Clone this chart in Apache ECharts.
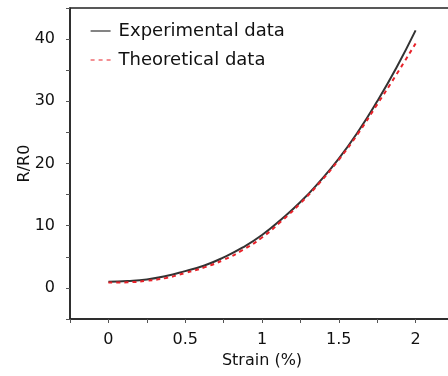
<!DOCTYPE html>
<html><head><meta charset="utf-8">
<script src="https://cdn.jsdelivr.net/npm/echarts@6/dist/echarts.min.js"></script>
<style>html,body{margin:0;padding:0;background:#fff;overflow:hidden;width:448px;height:376px}#c{width:460px;height:376px}</style>
</head><body><div id="c"></div>
<script>
var strain = [0, 0.125, 0.25, 0.375, 0.5, 0.625, 0.75, 0.875, 1.0, 1.125, 1.25, 1.375, 1.5, 1.625, 1.75, 1.875, 2.0];
var experimental = [1.0, 1.1, 1.35, 1.9, 2.7, 3.6, 4.9, 6.5, 8.5, 11.0, 13.8, 17.1, 20.8, 25.1, 30.0, 35.4, 41.4];
var theoretical = [0.85, 0.9, 1.15, 1.6, 2.4, 3.3, 4.5, 6.1, 8.1, 10.7, 13.6, 16.9, 20.6, 24.8, 29.5, 34.3, 39.3];
var seriesNames = ['Experimental data', 'Theoretical data'];
var xLabels = ['0', '0.5', '1', '1.5', '2'];
var yLabels = ['0', '10', '20', '30', '40'];

function pairs(xs, ys){ return xs.map(function(x,i){ return [x, ys[i]]; }); }
var font = 'DejaVu Sans';
var chart = echarts.init(document.getElementById('c'), null, {renderer:'canvas'});
chart.setOption({
  animation: false,
  grid: {left: 70, top: 8, right: 6, bottom: 57, show: true, borderColor: '#222', borderWidth: 1.5, backgroundColor: 'transparent'},
  legend: {
    left: 85, top: 17, orient: 'vertical', itemGap: 11, itemWidth: 20, itemHeight: 10,
    itemStyle: {opacity: 0},
    lineStyle: {width: 1.2},
    textStyle: {fontFamily: font, fontSize: 18, color: '#111', padding: [0, 0, 0, 3]},
    data: seriesNames
  },
  xAxis: {
    type: 'value', min: -0.25, max: 2.25, interval: 0.25,
    name: 'Strain (%)', nameLocation: 'middle', nameGap: 33,
    nameTextStyle: {fontFamily: font, fontSize: 16, color: '#111'},
    axisLine: {show: true, onZero: false, lineStyle: {color: '#222', width: 1.5}},
    axisTick: {show: true, length: 4, lineStyle: {color: '#555'}},
    splitLine: {show: false},
    axisLabel: {fontFamily: font, fontSize: 16, color: '#111', margin: 13,
      formatter: function(v){ var s = String(+v.toFixed(2)); return xLabels.indexOf(s) >= 0 ? s : ''; }}
  },
  yAxis: {
    type: 'value', min: -5, max: 45, interval: 5,
    name: 'R/R0', nameLocation: 'middle', nameGap: 37, nameMoveOverlap: false,
    nameTextStyle: {fontFamily: font, fontSize: 16, color: '#111'},
    axisLine: {show: true, onZero: false, lineStyle: {color: '#222', width: 1.5}},
    axisTick: {show: true, length: 4, lineStyle: {color: '#555'}},
    splitLine: {show: false},
    axisLabel: {fontFamily: font, fontSize: 16, color: '#111', margin: 15,
      formatter: function(v){ var s = String(v); return yLabels.indexOf(s) >= 0 ? s : ''; }}
  },
  series: [
    {name: seriesNames[0], type: 'line', smooth: true, showSymbol: false, symbol: 'none',
     data: pairs(strain, experimental), lineStyle: {color: '#333', width: 2}, itemStyle: {color: '#333'}},
    {name: seriesNames[1], type: 'line', smooth: true, showSymbol: false, symbol: 'none',
     data: pairs(strain, theoretical), lineStyle: {color: '#e8222a', width: 2, type: [4, 4]}, itemStyle: {color: '#e8222a'}}
  ]
});
</script></body></html>
